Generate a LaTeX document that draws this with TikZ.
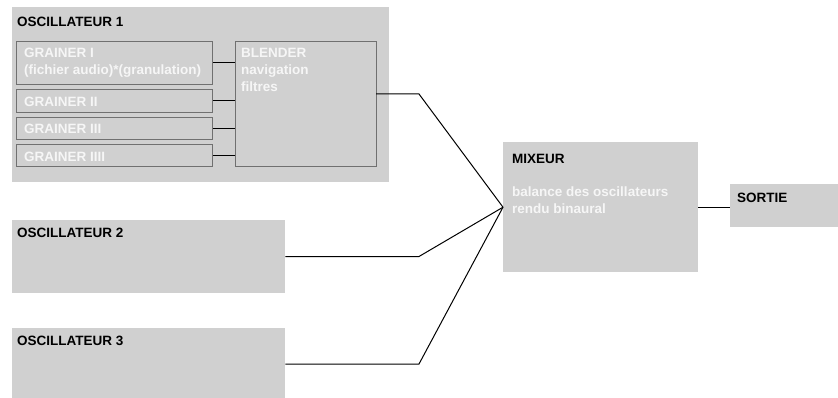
\documentclass[tikz,border=0pt]{standalone}
\usepackage{fontspec}
\setmainfont{Liberation Sans}
\usetikzlibrary{calc}
\definecolor{fond}{RGB}{208,208,208}
\definecolor{bord}{RGB}{112,112,112}
\definecolor{clair}{RGB}{246,246,246}
\tikzset{
	bloc/.style={fill=fond,draw=none,anchor=north west,inner sep=0pt},
	sousbloc/.style={fill=fond,draw=bord,line width=1pt,anchor=north west,inner sep=0pt},
	titre/.style={anchor=north west,inner sep=0pt,align=left,font=\fontsize{13.5}{17}\selectfont\bfseries},
	pale/.style={titre,text=clair},
	fil/.style={line width=1pt}
}
\begin{document}
\begin{tikzpicture}[x=1pt,y=-1pt]
	\clip (0,0) rectangle (838,398);
	% oscillateur 1 et ses grainers
	\node[bloc,minimum width=377,minimum height=175] (osc1) at (12,7) {};
	\node[titre] (t1) at ($(osc1.north west)+(5,10)$) {OSCILLATEUR 1};
	\node[sousbloc,minimum width=196,minimum height=43] (g1) at (16,41) {};
	\node[sousbloc,minimum width=196,minimum height=23] (g2) at (16,89) {};
	\node[sousbloc,minimum width=196,minimum height=22] (g3) at (16,117) {};
	\node[sousbloc,minimum width=196,minimum height=22] (g4) at (16,144) {};
	\node[sousbloc,minimum width=141,minimum height=125] (bl) at (235,41) {};
	\node[pale] (tg1) at ($(g1.north west)+(8,7)$) {GRAINER I\\(fichier audio)*(granulation)};
	\node[pale] (tg2) at ($(g2.north west)+(8,8)$) {GRAINER II};
	\node[pale] (tg3) at ($(g3.north west)+(8,7)$) {GRAINER III};
	\node[pale] (tg4) at ($(g4.north west)+(8,8)$) {GRAINER IIII};
	\node[pale] (tbl) at ($(bl.north west)+(6,7)$) {BLENDER\\navigation\\filtres};
	% oscillateurs 2 et 3
	\node[bloc,minimum width=273,minimum height=73] (osc2) at (12,220) {};
	\node[titre] (t2) at ($(osc2.north west)+(5,8)$) {OSCILLATEUR 2};
	\node[bloc,minimum width=273,minimum height=72] (osc3) at (12,328) {};
	\node[titre] (t3) at ($(osc3.north west)+(5,8)$) {OSCILLATEUR 3};
	% mixeur et sortie
	\node[bloc,minimum width=195,minimum height=130] (mix) at (503,142) {};
	\node[titre] (tm) at ($(mix.north west)+(9,12)$) {MIXEUR};
	\node[pale] (tm2) at ($(mix.north west)+(9,45)$) {balance des oscillateurs\\rendu binaural};
	\node[bloc,minimum width=112,minimum height=43] (so) at (730,184) {};
	\node[titre] (ts) at ($(so.north west)+(7,9)$) {SORTIE};
	% connexions
	\coordinate (b1) at (376,94);
	\coordinate (k1) at (419,94);
	\coordinate (k2) at (419,256.5);
	\coordinate (k3) at (419,364);
	\foreach \g in {g1,g2,g3,g4}
		\draw[fil] (\g.east) -- (\g.east -| bl.west);
	\draw[fil] (b1) -- (k1) -- (mix.west);
	\draw[fil] (osc2.east) -- (k2) -- (mix.west);
	\draw[fil] (osc3.east) -- (k3) -- (mix.west);
	\draw[fil] (mix.east) -- (mix.east -| so.west);
\end{tikzpicture}
\end{document}
